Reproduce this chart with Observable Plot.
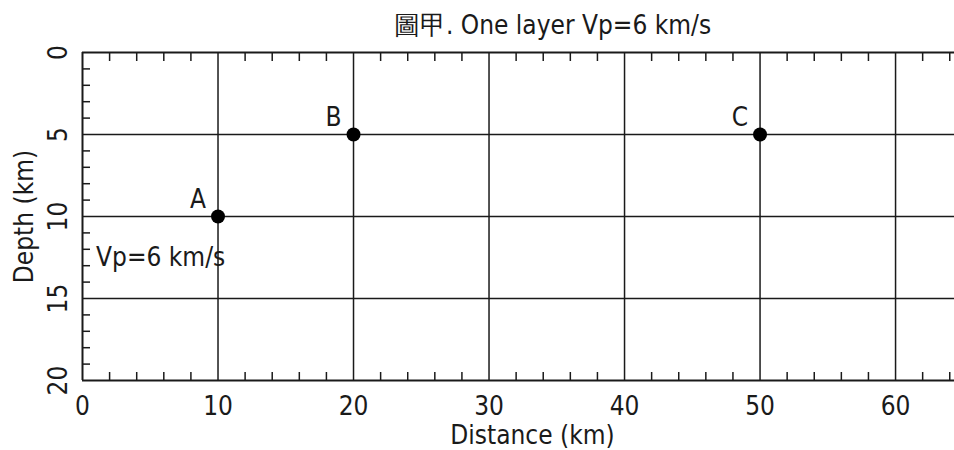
<!DOCTYPE html>
<html>
<head>
<meta charset="utf-8">
<script src="https://cdn.jsdelivr.net/npm/d3@7"></script>
<script src="https://cdn.jsdelivr.net/npm/@observablehq/plot@0.6"></script>
<style>
  html, body { margin: 0; padding: 0; background: #fff; }
</style>
</head>
<body>
<div id="chart"></div>
<script>
// ---- data ----
const titleText = "圖甲. One layer Vp=6 km/s";
const xLabel = "Distance (km)";
const yLabel = "Depth (km)";
const xDomain = [0, 64.35];
const yDomain = [0, 20];
const xMajor = [10, 20, 30, 40, 50, 60];
const yMajor = [5, 10, 15];
const xTickLabels = [0, 10, 20, 30, 40, 50, 60];
const yTickLabels = [0, 5, 10, 15, 20];
const xMinor = [2,4,6,8,12,14,16,18,22,24,26,28,32,34,36,38,42,44,46,48,52,54,56,58,62,64];
const yMinor = [1,2,3,4,6,7,8,9,11,12,13,14,16,17,18,19];
const pointNames = ["A", "B", "C"];
const pointDist = [10, 20, 50];
const pointDepth = [10, 5, 5];
const noteText = ["Vp=6 km/s"];
const noteDist = [1];
const noteDepth = [12.5];

const points = pointNames.map((n, i) => ({name: n, x: pointDist[i], y: pointDepth[i]}));
const notes = noteText.map((t, i) => ({t, x: noteDist[i], y: noteDepth[i]}));

const ink = "#1a1a1a";
const font = "'Liberation Sans Narrow', 'DejaVu Sans Condensed', 'Liberation Sans', sans-serif";

const chart = Plot.plot({
  width: 954,
  height: 450,
  marginLeft: 82,
  marginRight: 0,
  marginTop: 52,
  marginBottom: 70,
  style: {fontFamily: font, color: ink, background: "#fff", overflow: "visible"},
  x: {domain: xDomain, axis: null},
  y: {domain: yDomain, reverse: true, axis: null},
  marks: [
    // grid lines
    Plot.ruleX(xMajor, {stroke: ink, strokeWidth: 1.5}),
    Plot.ruleY(yMajor, {stroke: ink, strokeWidth: 1.5}),
    // frame (top, bottom, left)
    Plot.ruleY([yDomain[0], yDomain[1]], {stroke: ink, strokeWidth: 2}),
    Plot.ruleX([xDomain[0]], {stroke: ink, strokeWidth: 2}),
    // inward minor ticks
    Plot.axisX({anchor: "bottom", ticks: xMinor, tickSize: -8, tickFormat: null, text: null, stroke: ink, strokeWidth: 1.5, label: null}),
    Plot.axisX({anchor: "top", ticks: xMinor, tickSize: -8, text: null, stroke: ink, strokeWidth: 1.5, label: null}),
    Plot.axisY({anchor: "left", ticks: yMinor, tickSize: -8, text: null, stroke: ink, strokeWidth: 1.5, label: null}),
    // tick labels
    Plot.text(xTickLabels, {x: d => d, frameAnchor: "bottom", dy: 26, text: d => String(d), fontSize: 26, fill: ink, lineAnchor: "middle"}),
    Plot.text(yTickLabels, {y: d => d, frameAnchor: "left", dx: -24, rotate: -90, text: d => String(d), fontSize: 26, fill: ink, textAnchor: "middle", lineAnchor: "middle"}),
    // axis labels
    Plot.text([xLabel], {frameAnchor: "bottom", dx: 14, dy: 55, fontSize: 26, fill: ink, lineAnchor: "middle"}),
    Plot.text([yLabel], {frameAnchor: "left", dx: -58, rotate: -90, fontSize: 26, fill: ink, textAnchor: "middle", lineAnchor: "middle"}),
    // title
    Plot.text([titleText], {frameAnchor: "top", dx: 34, dy: -27, fontSize: 26, fill: ink, lineAnchor: "middle"}),
    // points and labels
    Plot.dot(points, {x: "x", y: "y", r: 7, fill: "#000", stroke: "none"}),
    Plot.text(points, {x: "x", y: "y", text: "name", dx: -20, dy: -17, fontSize: 26, fill: ink, lineAnchor: "middle"}),
    // annotation
    Plot.text(notes, {x: "x", y: "y", text: "t", textAnchor: "start", fontSize: 26, fill: ink, lineAnchor: "middle"})
  ]
});
document.getElementById("chart").appendChild(chart);
</script>
</body>
</html>
